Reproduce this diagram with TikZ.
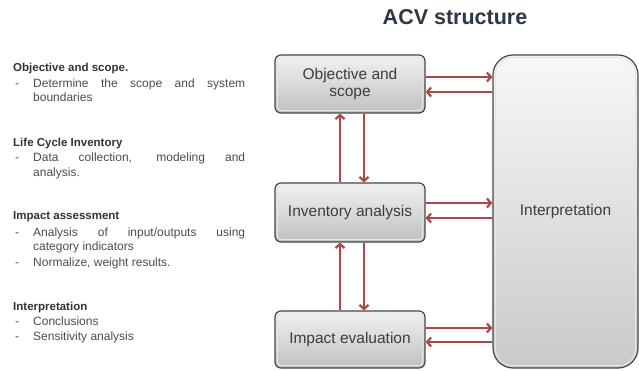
\documentclass[tikz,border=0pt]{standalone}
\usepackage{fontspec}
\setmainfont{Liberation Sans}
\usetikzlibrary{arrows.meta,calc}
\definecolor{arr}{RGB}{176,70,72}
\definecolor{titlec}{RGB}{44,56,70}
\definecolor{headc}{RGB}{50,50,55}
\definecolor{bodyc}{RGB}{75,75,82}
\definecolor{boxtxt}{RGB}{60,60,65}
\definecolor{boxedge}{RGB}{70,70,70}
\tikzset{
  stagebox/.style={draw=boxedge, line width=1.2pt, rounded corners=6pt,
    top color=white!90!gray, bottom color=gray!50, minimum width=150pt,
    text=boxtxt, align=center, font=\fontsize{15.5}{17}\selectfont},
  bigbox/.style={draw=boxedge, line width=1.2pt, rounded corners=20pt,
    top color=white!94!gray, bottom color=gray!42, minimum width=145pt,
    minimum height=313pt, text=boxtxt, font=\fontsize{15.5}{17}\selectfont},
  innerline/.style={draw=white!80!gray, line width=1pt},
  flow/.style={draw=arr, line width=2.2pt, -{Straight Barb[length=4pt,width=9pt]}},
  headtxt/.style={anchor=base west, inner sep=0pt, text=headc, font=\fontsize{11.5}{14}\selectfont\bfseries},
  bodytxt/.style={anchor=base west, inner sep=0pt, text=bodyc, font=\fontsize{12}{14}\selectfont},
}
\begin{document}
\begin{tikzpicture}[x=1pt,y=-1pt]
\useasboundingbox (0,0) rectangle (639,371);
% title
\node[text=titlec, font=\fontsize{21.5}{24}\selectfont\bfseries] (title) at (455,17) {ACV structure};
% boxes
\node[stagebox, minimum height=58pt] (obj) at (350,84) {Objective and\\scope};
\node[stagebox, minimum height=59pt] (inv) at (350,212.5) {Inventory analysis};
\node[stagebox, minimum height=57pt] (imp) at (350,339.5) {Impact evaluation};
\node[bigbox] (interp) at (565.5,211.5) {Interpretation};
\foreach \b in {obj,inv,imp}{
  \draw[innerline, rounded corners=4pt] ($(\b.north west)+(3,3)$) rectangle ($(\b.south east)+(-3,-3)$);
}
\draw[innerline, rounded corners=17pt] ($(interp.north west)+(3,3)$) rectangle ($(interp.south east)+(-3,-3)$);
% horizontal arrows
\draw[flow] (obj.east |- {(0,77)}) -- (interp.west |- {(0,77)});
\draw[flow] (interp.west |- {(0,92)}) -- (obj.east |- {(0,92)});
\draw[flow] (inv.east |- {(0,203)}) -- (interp.west |- {(0,203)});
\draw[flow] (interp.west |- {(0,218)}) -- (inv.east |- {(0,218)});
\draw[flow] (imp.east |- {(0,328)}) -- (interp.west |- {(0,328)});
\draw[flow] (interp.west |- {(0,342)}) -- (imp.east |- {(0,342)});
% vertical arrows
\draw[flow] (inv.north -| {(340,0)}) -- (obj.south -| {(340,0)});
\draw[flow] (obj.south -| {(364,0)}) -- (inv.north -| {(364,0)});
\draw[flow] (imp.north -| {(340,0)}) -- (inv.south -| {(340,0)});
\draw[flow] (inv.south -| {(364,0)}) -- (imp.north -| {(364,0)});
% left text
\node[headtxt] (h1) at (13,72) {Objective and scope.};
\node[bodytxt] (d1) at (15,87.5) {-};
\node[bodytxt] (t1a) at (33,87.5) {\makebox[212pt][s]{Determine the scope and system}};
\node[bodytxt] (t1b) at (33,102) {boundaries};
\node[headtxt] (h2) at (13,147) {Life Cycle Inventory};
\node[bodytxt] (d2) at (15,162) {-};
\node[bodytxt] (t2a) at (33,162) {\makebox[212pt][s]{Data collection, modeling and}};
\node[bodytxt] (t2b) at (33,176.5) {analysis.};
\node[headtxt] (h3) at (13,220) {Impact assessment};
\node[bodytxt] (d3) at (15,236.5) {-};
\node[bodytxt] (t3a) at (33,236.5) {\makebox[212pt][s]{Analysis of input/outputs using}};
\node[bodytxt] (t3b) at (33,251) {category indicators};
\node[bodytxt] (d4) at (15,266) {-};
\node[bodytxt] (t4) at (33,266) {Normalize, weight results.};
\node[headtxt] (h4) at (13,310) {Interpretation};
\node[bodytxt] (d5) at (15,325) {-};
\node[bodytxt] (t5) at (33,325) {Conclusions};
\node[bodytxt] (d6) at (15,340) {-};
\node[bodytxt] (t6) at (33,340) {Sensitivity analysis};
\end{tikzpicture}
\end{document}
